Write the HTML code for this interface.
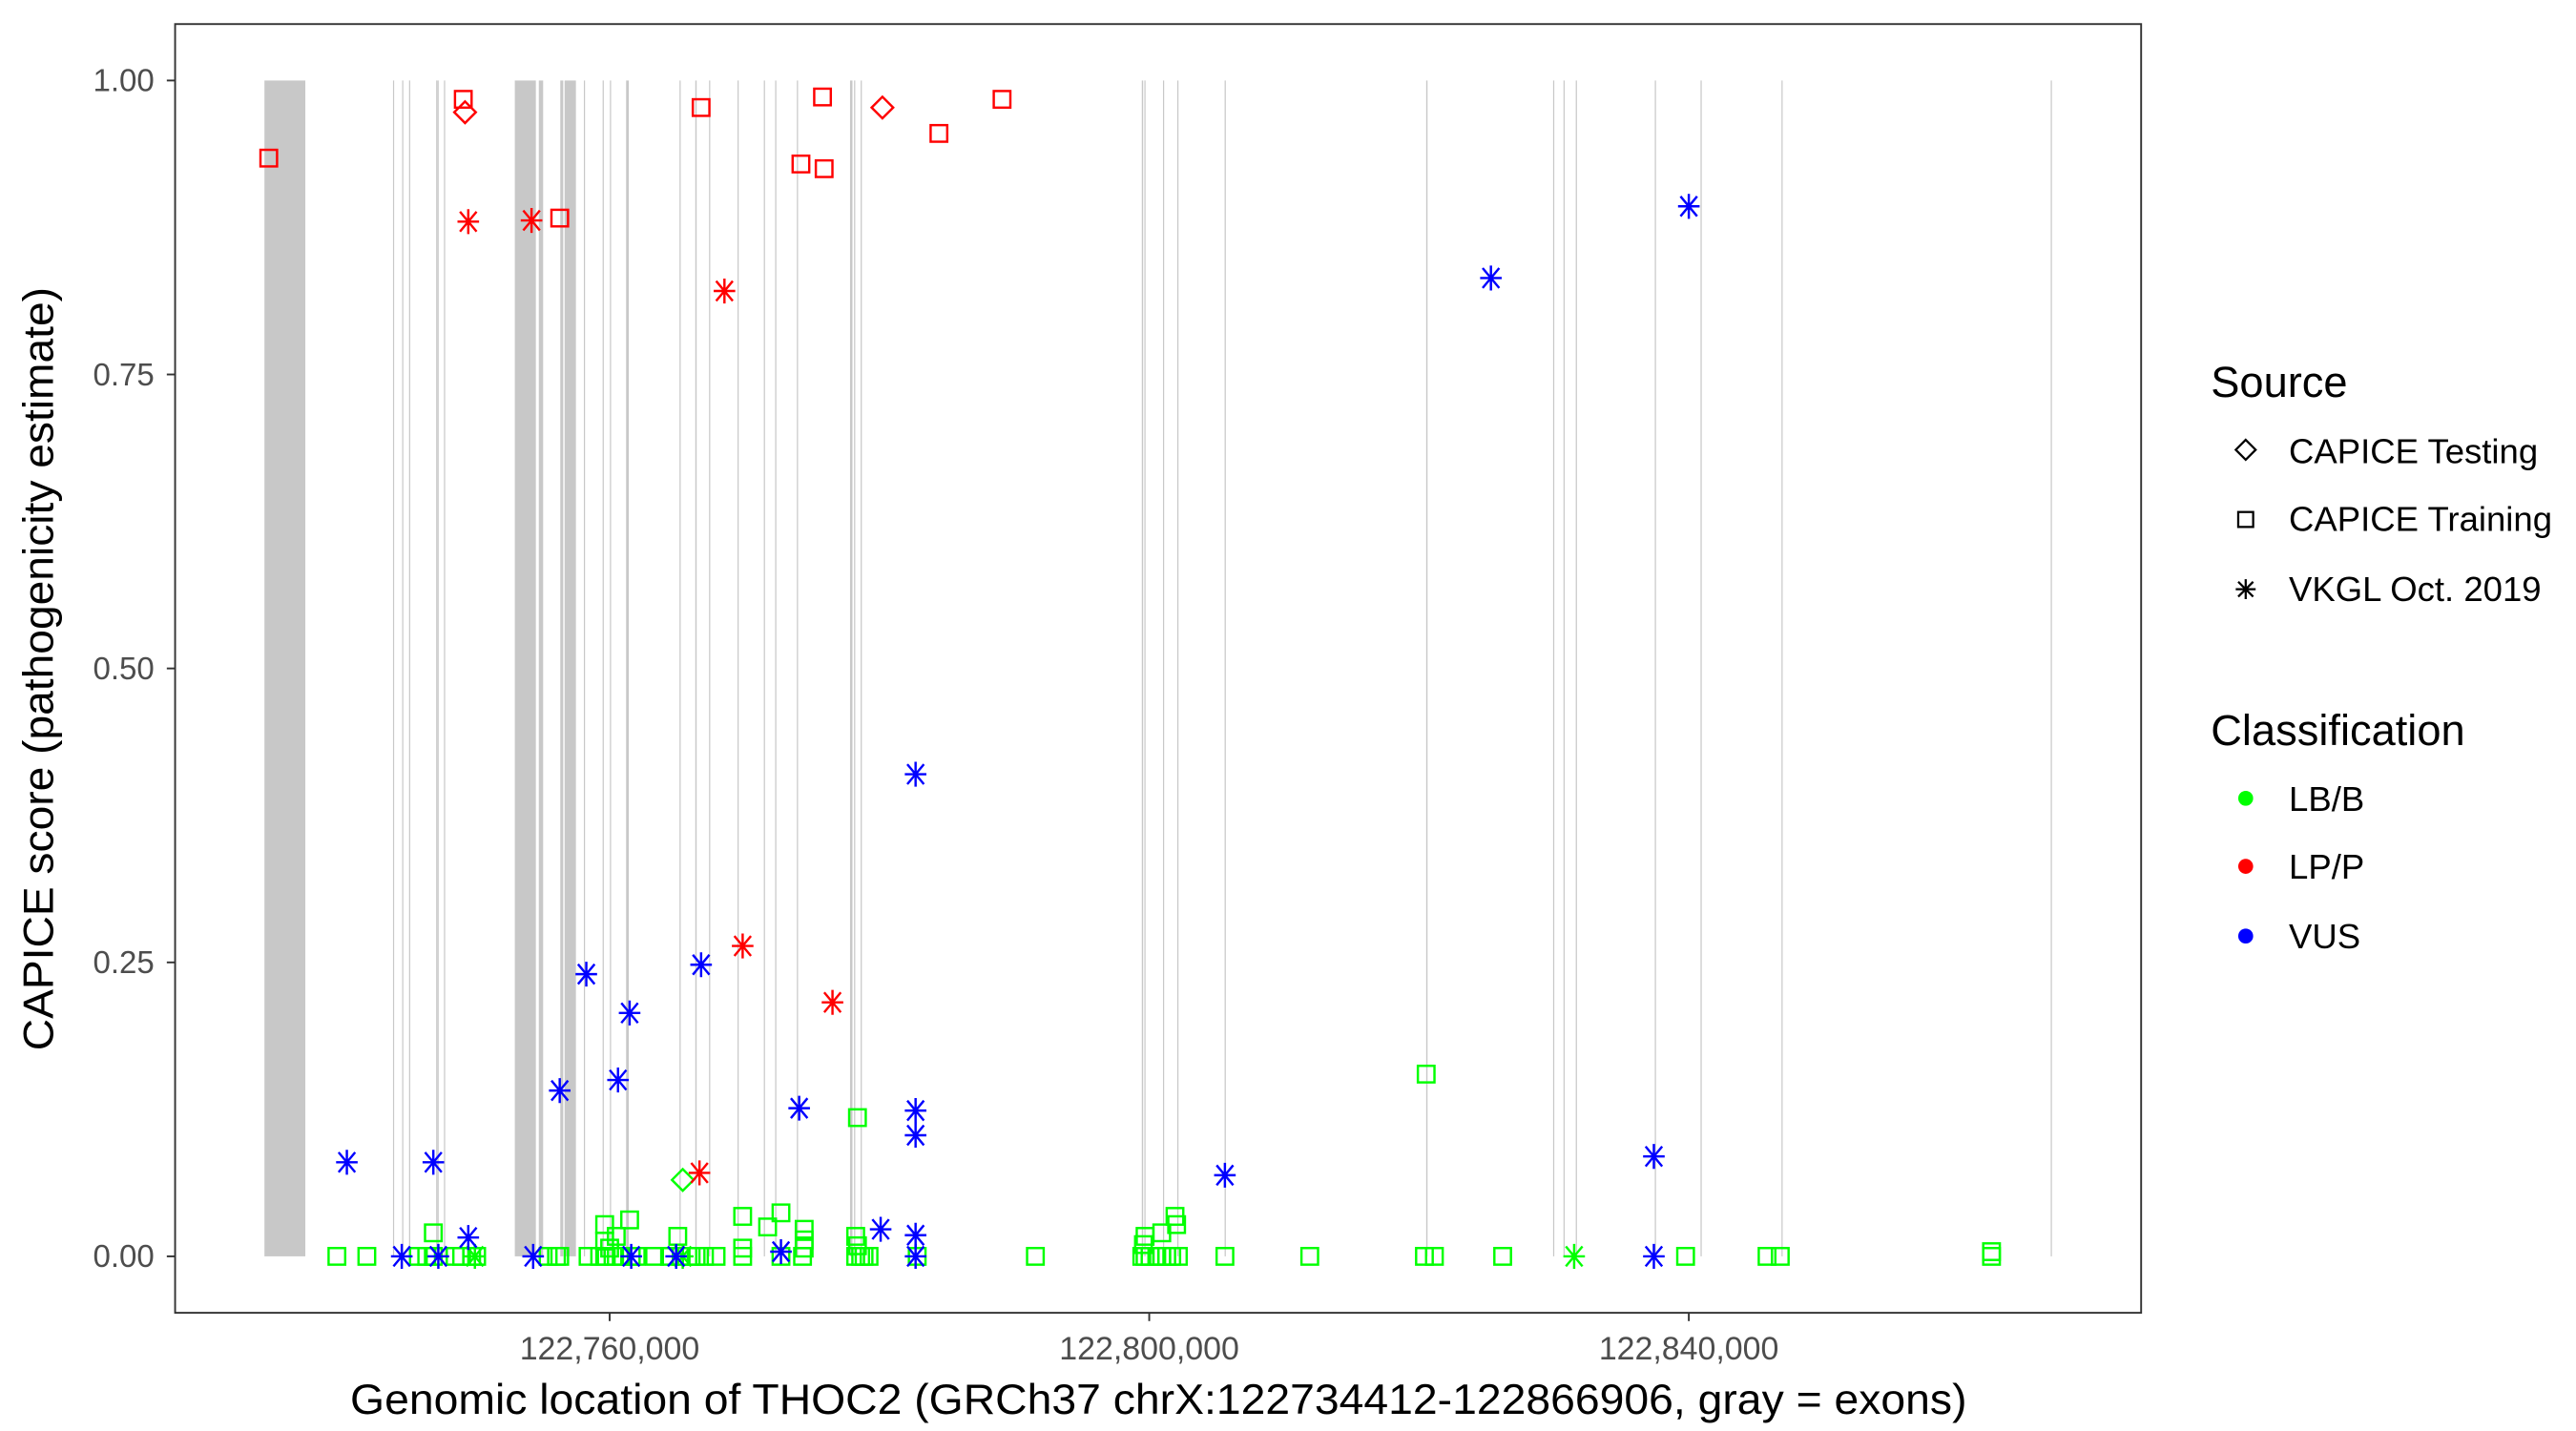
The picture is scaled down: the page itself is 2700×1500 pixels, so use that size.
<!DOCTYPE html>
<html><head><meta charset="utf-8"><style>
html,body{margin:0;padding:0;background:#fff;}
svg{display:block;font-family:"Liberation Sans",Arial,sans-serif;}
</style></head><body>
<svg id="chart" width="2700" height="1500" viewBox="0 0 1552 862.22" xmlns="http://www.w3.org/2000/svg">
<rect x="0" y="0" width="1552" height="862.22" fill="#fff"/>
<g id="exons"></g>
<g id="points"></g>
<rect x="105.5" y="14.5" width="1184.5" height="776.5" fill="none" stroke="#333" stroke-width="1.1"/>
<g id="axes"></g>
<text x="698" y="852" font-size="25.5" text-anchor="middle" fill="#000" textLength="974" lengthAdjust="spacingAndGlyphs">Genomic location of THOC2 (GRCh37 chrX:122734412-122866906, gray = exons)</text>
<text transform="translate(32,403) rotate(-90)" font-size="25.5" text-anchor="middle" fill="#000" textLength="460" lengthAdjust="spacingAndGlyphs">CAPICE score (pathogenicity estimate)</text>
<g>
<text x="1332" y="239" font-size="26">Source</text>
<g><path d="M1353 265 l6 6 l-6 6 l-6 -6 z" fill="none" stroke="#000" stroke-width="1.3"/><text x="1379" y="279" font-size="21">CAPICE Testing</text></g>
<g><rect x="1348.5" y="308.5" width="9" height="9" fill="none" stroke="#000" stroke-width="1.3"/><text x="1379" y="320" font-size="21">CAPICE Training</text></g>
<g><path d="M1347 355 h12 M1353 349 v12 M1348.5 350.5 l9 9 M1357.5 350.5 l-9 9" stroke="#000" stroke-width="1.3"/><text x="1379" y="362" font-size="21">VKGL Oct. 2019</text></g>
<text x="1332" y="449" font-size="26">Classification</text>
<g><circle cx="1353" cy="481" r="4.5" fill="#00FF00"/><text x="1379" y="488.5" font-size="21">LB/B</text></g>
<g><circle cx="1353" cy="522" r="4.5" fill="#FF0000"/><text x="1379" y="529.5" font-size="21">LP/P</text></g>
<g><circle cx="1353" cy="564" r="4.5" fill="#0000FF"/><text x="1379" y="571.5" font-size="21">VUS</text></g>
</g>
</svg>
<script>
// positions in kb (chrX), scores 0..1
const exonStarts = [122734.41,122743.94,122744.62,122745.13,122747.14,122747.24,122747.72,122752.97,122754.75,122756.34,122756.66,122758.09,122759.48,122760.02,122761.22,122765.18,122766.35,122767.37,122769.48,122771.43,122772.27,122773.88,122777.82,122778.12,122778.61,122799.45,122799.64,122801.02,122802.08,122805.59,122820.53,122829.94,122830.71,122831.62,122837.48,122840.87,122846.87,122866.83];
const exonEnds   = [122737.44,122744.00,122744.68,122745.19,122747.20,122747.30,122747.78,122754.53,122755.07,122756.56,122757.50,122758.15,122759.54,122760.08,122761.42,122765.24,122766.45,122767.43,122769.54,122771.49,122772.33,122773.94,122778.00,122778.18,122778.67,122799.55,122799.70,122801.08,122802.14,122805.65,122820.63,122830.00,122830.77,122831.68,122837.54,122840.93,122846.93,122866.91];

const lpPos    = [122734.73,122749.15,122749.28,122749.52,122754.21,122756.30,122766.78,122768.51,122774.18,122775.78,122775.90,122780.22,122784.41,122789.09,122769.86,122776.52,122766.66];
const lpScore  = [0.934,0.984,0.973,0.880,0.881,0.883,0.977,0.821,0.929,0.986,0.925,0.977,0.955,0.984,0.264,0.216,0.071];
const lpSource = ["tr","tr","te","vk","vk","tr","tr","vk","tr","tr","tr","te","tr","tr","vk","vk","vk"];

const vusPos   = [122740.52,122746.93,122749.52,122744.59,122747.30,122754.33,122761.60,122764.93,122772.70,122782.68,122837.41,122756.30,122758.27,122760.62,122761.48,122766.78,122774.05,122780.09,122782.68,122782.68,122782.68,122782.68,122805.61,122825.33,122837.41,122840.00];
const vusScore = [0.080,0.080,0.016,0,0,0,0,0,0.004,0,0,0.141,0.240,0.150,0.207,0.248,0.126,0.023,0.410,0.124,0.103,0.018,0.069,0.832,0.085,0.893];

const lbPos    = [122739.78,122742.00,122745.82,122746.44,122746.93,122748.54,122749.03,122749.77,122750.14,122755.44,122756.06,122756.30,122758.40,122759.26,122759.75,122760.25,122760.86,122761.60,122761.97,122763.33,122764.44,122765.30,122766.04,122766.41,122767.03,122767.89,122769.86,122772.70,122774.30,122778.24,122778.61,122778.86,122779.23,122782.80,122791.56,122799.45,122799.69,122800.06,122800.56,122800.93,122801.30,122801.67,122802.16,122805.61,122811.90,122820.40,122821.14,122826.20,122839.76,122845.80,122846.78,122862.44,
  122746.93,122759.63,122759.63,122760.00,122760.49,122761.48,122765.05,122769.86,122769.86,122771.71,122772.70,122774.42,122774.42,122774.42,122778.37,122778.24,122778.37,122799.57,122799.69,122800.93,122801.91,122802.03,122820.53,122862.44,
  122765.42,122750.01,122765.42,122831.50];
const lbScore  = [0,0,0,0,0,0,0,0,0,0,0,0,0,0,0,0,0,0,0,0,0,0,0,0,0,0,0,0,0,0,0,0,0,0,0,0,0,0,0,0,0,0,0,0,0,0,0,0,0,0,0,0,
  0.020,0.027,0.013,0.007,0.017,0.031,0.017,0.034,0.007,0.025,0.037,0.023,0.014,0.007,0.118,0.017,0.009,0.010,0.017,0.020,0.034,0.027,0.155,0.004,
  0.065,0,0,0];
const lbSource = ["tr","tr","tr","tr","tr","tr","tr","tr","tr","tr","tr","tr","tr","tr","tr","tr","tr","tr","tr","tr","tr","tr","tr","tr","tr","tr","tr","tr","tr","tr","tr","tr","tr","tr","tr","tr","tr","tr","tr","tr","tr","tr","tr","tr","tr","tr","tr","tr","tr","tr","tr","tr",
  "tr","tr","tr","tr","tr","tr","tr","tr","tr","tr","tr","tr","tr","tr","tr","tr","tr","tr","tr","tr","tr","tr","tr","tr",
  "te","vk","vk","vk"];

const xTickVals = [122760, 122800, 122840];
const xTickLabels = ["122,760,000","122,800,000","122,840,000"];
const yTickVals = [0, 0.25, 0.5, 0.75, 1];
const yTickLabels = ["0.00","0.25","0.50","0.75","1.00"];

const X0 = 122727.787, X1 = 122873.531, PL = 105.5, PR = 1290;
const Y0 = -0.048, Y1 = 1.048, PB = 791, PT = 14.5;
function sx(v){ return PL + (v - X0) / (X1 - X0) * (PR - PL); }
function sy(v){ return PB - (v - Y0) / (Y1 - Y0) * (PB - PT); }
const NS = "http://www.w3.org/2000/svg";
function mk(tag, attrs){ const e = document.createElementNS(NS, tag); for (const k in attrs) e.setAttribute(k, attrs[k]); return e; }

const gEx = document.getElementById('exons');
for (let i = 0; i < exonStarts.length; i++){
  const a = sx(exonStarts[i]), b = sx(exonEnds[i]);
  const w = Math.max(b - a, 0.7);
  const r = mk('rect', {x: a, y: sy(1), width: w, height: sy(0) - sy(1), fill: '#c8c8c8'});
  
  
  gEx.appendChild(r);
}

const gP = document.getElementById('points');
function marker(src, x, y, col){
  let e;
  if (src === 'tr'){
    e = mk('rect', {x: x - 5, y: y - 5, width: 10, height: 10, fill: 'none', stroke: col, 'stroke-width': 1.4});
  } else if (src === 'te'){
    e = mk('path', {d: `M${x} ${y-6.5} L${x+6.5} ${y} L${x} ${y+6.5} L${x-6.5} ${y} Z`, fill: 'none', stroke: col, 'stroke-width': 1.4});
  } else {
    e = mk('path', {d: `M${x-6.5} ${y} H${x+6.5} M${x} ${y-7.5} V${y+7.5} M${x-5} ${y-6} L${x+5} ${y+6} M${x+5} ${y-6} L${x-5} ${y+6}`, fill: 'none', stroke: col, 'stroke-width': 1.4});
  }
  return e;
}
for (let i = 0; i < lbPos.length; i++){
  const m = marker(lbSource[i], sx(lbPos[i]), sy(lbScore[i]), '#00FF00');
  
  
  gP.appendChild(m);
}
for (let i = 0; i < vusPos.length; i++){
  const m = marker('vk', sx(vusPos[i]), sy(vusScore[i]), '#0000FF');
  
  
  gP.appendChild(m);
}
for (let i = 0; i < lpPos.length; i++){
  const m = marker(lpSource[i], sx(lpPos[i]), sy(lpScore[i]), '#FF0000');
  
  
  gP.appendChild(m);
}

const gA = document.getElementById('axes');
for (let i = 0; i < yTickVals.length; i++){
  const y = sy(yTickVals[i]);
  const t = mk('line', {x1: 100.5, x2: 105.5, y1: y, y2: y, stroke: '#333', 'stroke-width': 1.1});
  
  
  gA.appendChild(t);
  const l = mk('text', {x: 93, y: y + 6.5, 'font-size': 19, 'text-anchor': 'end', fill: '#4d4d4d'});
  l.textContent = yTickLabels[i];
  
  
  gA.appendChild(l);
}
for (let i = 0; i < xTickVals.length; i++){
  const x = sx(xTickVals[i]);
  const t = mk('line', {x1: x, x2: x, y1: 791, y2: 796, stroke: '#333', 'stroke-width': 1.1});
  
  
  gA.appendChild(t);
  const l = mk('text', {x: x, y: 819, 'font-size': 19.5, 'text-anchor': 'middle', fill: '#4d4d4d'});
  l.textContent = xTickLabels[i];
  
  
  gA.appendChild(l);
}
</script>
</body></html>
